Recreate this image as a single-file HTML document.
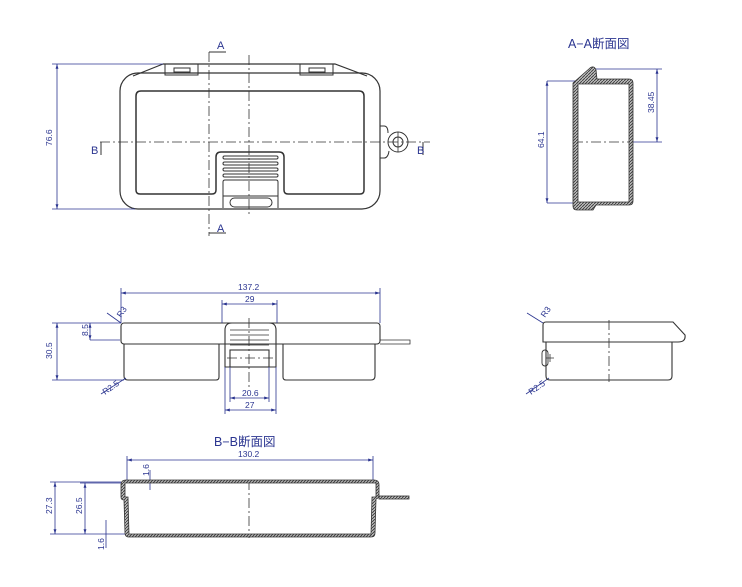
<!DOCTYPE html>
<html><head><meta charset="utf-8"><style>
html,body{margin:0;padding:0;background:#fff}
svg{display:block}
text{font-family:"Liberation Sans","Noto Sans CJK JP",sans-serif}
</style></head><body>
<svg width="742" height="587" viewBox="0 0 742 587" xmlns="http://www.w3.org/2000/svg">
<defs>
<marker id="ar" viewBox="0 0 10 10" refX="10" refY="5" markerWidth="6" markerHeight="6" orient="auto-start-reverse"><path d="M0,2 L10,5 L0,8z" fill="#2b3590"/></marker>
<pattern id="h" width="3" height="3" patternUnits="userSpaceOnUse"><rect width="3" height="3" fill="#bbb"/><path d="M0,3 L3,0" stroke="#333" stroke-width="0.8"/></pattern>
</defs>
<g fill="none" stroke="#333" stroke-width="1.2">
<!-- TOP VIEW -->
<path d="M163,64 L335,64 L367,76 M163,64 L133,76"/>
<rect x="120" y="73" width="260" height="136" rx="18"/>
<path d="M136,96 Q136,91 141,91 L359,91 Q364,91 364,96 L364,190 Q364,194 360,194 L288,194 Q284,194 284,190 L284,157 Q284,152 279,152 L221,152 Q216,152 216,157 L216,190 Q216,194 212,194 L140,194 Q136,194 136,190Z" stroke-width="1.5"/>
<rect x="165" y="64" width="33" height="11" stroke-width="1"/>
<rect x="174" y="68" width="16" height="4" stroke-width="1"/>
<rect x="300" y="64" width="33" height="11" stroke-width="1"/>
<rect x="309" y="68" width="16" height="4" stroke-width="1"/>
<g stroke-width="1">
<rect x="223" y="156" width="55" height="3" rx="1.5"/>
<rect x="223" y="162" width="55" height="3" rx="1.5"/>
<rect x="223" y="168" width="55" height="3" rx="1.5"/>
<rect x="223" y="174" width="55" height="3" rx="1.5"/>
<path d="M223,208 L223,182 Q223,180 225,180 L276,180 Q278,180 278,182 L278,208"/>
<path d="M223,196 L278,196"/>
<rect x="230" y="198" width="42" height="9" rx="4.5"/>
</g>
<path d="M380,126 L384,126 Q388,126 388,133 M380,158 L384,158 Q388,158 389,151" stroke-width="1"/>
<circle cx="398" cy="142" r="10" stroke-width="1"/>
<circle cx="398" cy="142" r="5" stroke-width="1"/>
<line x1="398" y1="132" x2="398" y2="152" stroke-width="0.8"/>
</g>
<g stroke="#333" stroke-width="0.8" stroke-dasharray="10,3,2,3" fill="none">
<line x1="249" y1="55" x2="249" y2="215"/>
<line x1="100" y1="142" x2="430" y2="142"/>
<line x1="209" y1="52" x2="209" y2="236"/>
<line x1="249" y1="318" x2="249" y2="390"/>
<line x1="227" y1="358" x2="275" y2="358"/>
<line x1="609" y1="320" x2="609" y2="382"/>
<line x1="573" y1="142" x2="633" y2="142"/>
<line x1="249" y1="480" x2="249" y2="538"/>
</g>
<g stroke="#333" stroke-width="1" fill="none">
<path d="M209,52 L226,52"/>
<path d="M209,233 L226,233"/>
<path d="M101,142 L101,155 M423,142 L423,155"/>
</g>
<g font-size="11" fill="#2b3590">
<text x="217" y="49">A</text><text x="217" y="232">A</text>
<text x="91" y="154">B</text><text x="417" y="154">B</text>
</g>
<g stroke="#2b3590" stroke-width="0.8" fill="none">
<line x1="52" y1="64" x2="163" y2="64"/><line x1="52" y1="209" x2="135" y2="209"/>
<line x1="57" y1="64" x2="57" y2="209" marker-start="url(#ar)" marker-end="url(#ar)"/>
</g>
<!-- FRONT VIEW -->
<g fill="none" stroke="#333" stroke-width="1.1">
<rect x="121" y="323" width="259" height="21" rx="3"/>
<path d="M124,344 L124,376 Q124,380 128,380 L216,380 Q219,380 219,377 L219,344"/>
<path d="M283,344 L283,377 Q283,380 286,380 L371,380 Q375,380 375,376 L375,344"/>
<path d="M225,367 L225,330 Q225,323 232,323 L269,323 Q276,323 276,330 L276,367Z"/>
<rect x="230" y="350" width="39" height="17"/>
<path d="M230,330 L269,330 M230,335 L269,335 M230,340 L269,340 M230,345 L269,345" stroke-width="0.8"/>
<path d="M380,340 L410,340 L410,344 L380,344" stroke-width="0.8"/>
</g>
<g stroke="#2b3590" stroke-width="0.8" fill="none">
<line x1="121" y1="288" x2="121" y2="323"/><line x1="380" y1="288" x2="380" y2="323"/>
<line x1="121" y1="293" x2="380" y2="293" marker-start="url(#ar)" marker-end="url(#ar)"/>
<line x1="222" y1="300" x2="222" y2="323"/><line x1="277" y1="300" x2="277" y2="323"/>
<line x1="222" y1="304" x2="277" y2="304" marker-start="url(#ar)" marker-end="url(#ar)"/>
<line x1="230" y1="367" x2="230" y2="402"/><line x1="269" y1="367" x2="269" y2="402"/>
<line x1="230" y1="398" x2="269" y2="398" marker-start="url(#ar)" marker-end="url(#ar)"/>
<line x1="225" y1="367" x2="225" y2="414"/><line x1="276" y1="367" x2="276" y2="414"/>
<line x1="225" y1="410" x2="276" y2="410" marker-start="url(#ar)" marker-end="url(#ar)"/>
<line x1="52" y1="323" x2="121" y2="323"/><line x1="52" y1="380" x2="124" y2="380"/>
<line x1="57" y1="323" x2="57" y2="380" marker-start="url(#ar)" marker-end="url(#ar)"/>
<line x1="90" y1="340" x2="120" y2="340"/>
<line x1="90" y1="323" x2="90" y2="340" marker-start="url(#ar)" marker-end="url(#ar)"/>
<line x1="107" y1="313" x2="121" y2="323"/>
<line x1="101" y1="394" x2="126" y2="378"/>
<line x1="527" y1="313" x2="543" y2="323"/>
<line x1="526" y1="394" x2="549" y2="378"/>
<line x1="547" y1="81" x2="575" y2="81"/><line x1="547" y1="203" x2="575" y2="203"/>
<line x1="547" y1="81" x2="547" y2="203" marker-start="url(#ar)" marker-end="url(#ar)"/>
<line x1="592" y1="69" x2="662" y2="69"/><line x1="633" y1="142" x2="662" y2="142"/>
<line x1="657" y1="69" x2="657" y2="142" marker-start="url(#ar)" marker-end="url(#ar)"/>
<line x1="127" y1="456" x2="127" y2="480"/><line x1="373" y1="456" x2="373" y2="480"/>
<line x1="127" y1="460" x2="373" y2="460" marker-start="url(#ar)" marker-end="url(#ar)"/>
<line x1="50" y1="482" x2="121" y2="482"/><line x1="50" y1="534" x2="125" y2="534"/>
<line x1="55" y1="482" x2="55" y2="534" marker-start="url(#ar)" marker-end="url(#ar)"/>
<line x1="80" y1="483" x2="121" y2="483"/>
<line x1="85" y1="483" x2="85" y2="534" marker-start="url(#ar)" marker-end="url(#ar)"/>
<line x1="150" y1="470" x2="150" y2="490"/>
<line x1="106" y1="520" x2="106" y2="548"/>
</g>
<g font-size="8.5" fill="#2b3590" font-family="'Liberation Sans Narrow','Liberation Sans',sans-serif">
<text x="238" y="290">137.2</text>
<text x="245" y="302">29</text>
<text x="242" y="396">20.6</text>
<text x="245" y="408">27</text>
<text x="238" y="457">130.2</text>
<text transform="translate(52,146) rotate(-90)">76.6</text>
<text transform="translate(52,359) rotate(-90)">30.5</text>
<text transform="translate(88,336) rotate(-90)">8.5</text>
<text transform="translate(121,318) rotate(-55)">R3</text>
<text transform="translate(105,395) rotate(-35)">R2.5</text>
<text transform="translate(545,318) rotate(-55)">R3</text>
<text transform="translate(531,395) rotate(-35)">R2.5</text>
<text transform="translate(544,148) rotate(-90)">64.1</text>
<text transform="translate(654,113) rotate(-90)">38.45</text>
<text transform="translate(52,514) rotate(-90)">27.3</text>
<text transform="translate(82,514) rotate(-90)">26.5</text>
<text transform="translate(149,476) rotate(-90)">1.6</text>
<text transform="translate(104,550) rotate(-90)">1.6</text>
</g>
<g fill="none" stroke="#333" stroke-width="1.1">
<path d="M543,342 L543,325 Q543,322 546,322 L673,322 L685,335 Q686,342 678,342 Z"/>
<path d="M546,342 L546,376 Q546,380 550,380 L668,380 Q672,380 672,376 L672,342"/>
<rect x="542" y="350" width="6" height="16" rx="3" stroke-width="0.9"/>
<path d="M546,358 L554,358 M550,354 L550,362" stroke-width="0.8"/>
</g>
<text x="568" y="48" font-size="12.5" fill="#2b3590">A−A断面図</text>
<g stroke="#333" stroke-width="0.8" fill="url(#h)">
<path d="M573,83 L590,68 Q594,65 596,70 L597,79 L629,79 Q633,79 633,83 L633,201 Q633,205 629,205 L596,205 L593,210 L577,210 Q573,210 573,206Z M578,84 L578,202 L629,202 L629,84Z" fill-rule="evenodd"/>
</g>
<text x="214" y="446" font-size="12.5" fill="#2b3590">B−B断面図</text>
<g stroke="#333" stroke-width="0.8" fill="url(#h)">
<path d="M121,485 Q121,480 126,480 L374,480 Q379,480 379,485 L379,495 Q379,498 376,499 L375,533 Q375,537 371,537 L129,537 Q125,537 125,533 L124,500 Q121,500 121,497Z M125,483 L125,497 L128,497 L129,534 L371,534 L372,497 L376,497 L376,483Z" fill-rule="evenodd"/>
<rect x="379" y="496" width="30" height="3"/>
</g>
</svg>
</body></html>
